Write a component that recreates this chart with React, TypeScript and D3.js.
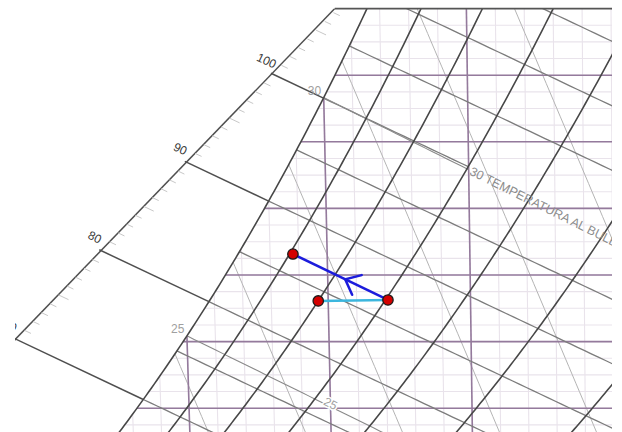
import * as d3 from 'd3';

// Psychrometric chart (excerpt), 101.325 kPa, with a process drawn on top
const PRESSURE = 101.325; // kPa

const dryBulbFine = d3.range(18, 42); // °C, thin grid
const dryBulbMajor = [20, 25, 30, 35]; // °C, purple
const humidityFine = d3.range(14, 30, 0.5); // g/kg, thin grid
const humidityMajor = [14, 16, 18, 20, 22, 24, 26, 28]; // g/kg, purple
const rhCurves = [1, 0.9, 0.8, 0.7, 0.6, 0.5, 0.4, 0.3];
const enthalpyInside = [65, 70, 75, 80, 85, 90, 95, 100, 105, 110, 115, 120]; // kJ/kg
const enthalpyMajor = [70, 80, 90, 100];
const enthalpyTicks = d3.range(64, 108);
const volumeLines = [0.86, 0.87, 0.88, 0.89, 0.9, 0.91, 0.92, 0.93]; // m3/kg
const wetBulbLabelled = [25, 30];
const satLabels = [25, 30];

// ends of the enthalpy scale (dry bulb °C, humidity g/kg)
const scaleT = [18.94, 30.45];
const scaleW = [20.11, 30];

// process states
const stateT = [32.1, 29.65, 28.8];
const stateW = [21.25, 21.22, 22.63];

const TOP_W = 30;
const LEFT = 15;
const RIGHT = 612;
const HEIGHT = 432;

const tScale = d3.scaleLinear().domain([25, 35]).range([187.1, 471.1]);
const wScale = d3.scaleLinear().domain([20, 30]).range([341.6, 8.6]);
// isotherms fan out slightly (oblique h-W chart): px per g/kg per °C
const FAN = 0.0525;
const FAN_REF = 44;

const xOf = (T: number, W: number) => tScale(T) + FAN * (T - FAN_REF) * (W - 20);
const toPx = (T: number, W: number): [number, number] => [xOf(T, W), wScale(W)];

function pws(T: number) {
  const K = T + 273.15;
  return (
    Math.exp(
      -5.8002206e3 / K +
        1.3914993 -
        4.8640239e-2 * K +
        4.1764768e-5 * K * K -
        1.4452093e-8 * K * K * K +
        6.5459673 * Math.log(K)
    ) / 1000
  );
}
const wAt = (T: number, rh: number) => {
  const pv = rh * 1.0044 * pws(T);
  return (621.945 * pv) / (PRESSURE - pv);
};
const hOf = (T: number, W: number) => 1.006 * T + (W / 1000) * (2501 + 1.86 * T);
const wForH = (h: number, T: number) => (1000 * (h - 1.006 * T)) / (2501 + 1.86 * T);
const wWetBulb = (T: number, twb: number) => {
  const ws = wAt(twb, 1) / 1000;
  return (1000 * ((2501 - 2.326 * twb) * ws - 1.006 * (T - twb))) / (2501 + 1.86 * T - 4.186 * twb);
};
const tForV = (v: number, W: number) => (v * PRESSURE) / (0.287042 * (1 + (1.607858 * W) / 1000)) - 273.15;

function bisect(f: (x: number) => number, lo: number, hi: number) {
  let a = lo, b = hi;
  for (let i = 0; i < 60; i++) {
    const m = (a + b) / 2;
    if (f(a) * f(m) <= 0) b = m; else a = m;
  }
  return (a + b) / 2;
}
const tSatForH = (h: number) => bisect((T) => hOf(T, wAt(T, 1)) - h, 0, 60);
const tSatForW = (W: number) => bisect((T) => wAt(T, 1) - W, 0, 60);
const scalePoint = (u: number) => ({
  T: scaleT[0] + u * (scaleT[1] - scaleT[0]),
  W: scaleW[0] + u * (scaleW[1] - scaleW[0]),
});
const scaleU = (h: number) => bisect((u) => { const p = scalePoint(u); return hOf(p.T, p.W) - h; }, -1, 1.5);

const line = d3.line<[number, number]>().x((d) => d[0]).y((d) => d[1]);

export default function App() {
  const tTop = tSatForW(TOP_W);
  const satPts: [number, number][] = d3
    .range(15, tTop, 0.1)
    .map((T) => toPx(T, wAt(T, 1)))
    .concat([toPx(tTop, TOP_W)]);
  const gridClip =
    line([...satPts, [RIGHT, wScale(TOP_W)], [RIGHT, 700]])! + 'Z';

  const rhPaths = rhCurves.map((rh) =>
    line(d3.range(15, 50, 0.1).map((T) => toPx(T, wAt(T, rh))).filter((p) => p[1] > -20))
  );

  const hPaths = enthalpyInside.map((h) => {
    const t0 = tSatForH(h);
    const t1 = h === 100 ? 35 : 46;
    return line(d3.range(t0, t1, 0.25).concat([t1]).map((T) => toPx(T, wForH(h, T))));
  });

  const wbPaths = wetBulbLabelled.map((twb) => {
    const t1 = twb === 30 ? 35 : 46;
    return line(d3.range(twb, t1, 0.25).concat([t1]).map((T) => toPx(T, wWetBulb(T, twb))));
  });

  const vPaths = volumeLines.map((v) =>
    line(d3.range(10, 31, 0.25).map((W) => toPx(tForV(v, W), W)))
  );

  // enthalpy scale
  const sA = scalePoint(-0.3);
  const sB = scalePoint(1);
  const hDir = (h: number) => {
    const p = scalePoint(scaleU(h));
    const a = toPx(p.T, p.W);
    const b = toPx(p.T + 1, wForH(h, p.T + 1));
    const len = Math.hypot(b[0] - a[0], b[1] - a[1]);
    return { a, d: [(b[0] - a[0]) / len, (b[1] - a[1]) / len] };
  };

  const wbAngleA = toPx(35, wWetBulb(35, 30));
  const wbAngleB = toPx(40, wWetBulb(40, 30));
  const wbAngle = (Math.atan2(wbAngleB[1] - wbAngleA[1], wbAngleB[0] - wbAngleA[0]) * 180) / Math.PI;

  const states = stateT.map((T, i) => toPx(T, stateW[i]));
  const [s0, s1, s2] = states;
  const vx = s2[0] - s0[0], vy = s2[1] - s0[1];
  const vl = Math.hypot(vx, vy);
  const ux = vx / vl, uy = vy / vl;
  const tip: [number, number] = [s0[0] + 0.45 * vx, s0[1] + 0.45 * vy];
  const arm = (deg: number): [number, number] => {
    const r = (deg * Math.PI) / 180;
    const bx = -ux, by = -uy;
    return [tip[0] + 17 * (bx * Math.cos(r) - by * Math.sin(r)), tip[1] + 17 * (bx * Math.sin(r) + by * Math.cos(r))];
  };

  const font = "'Liberation Sans', Arial, sans-serif";

  return (
    <svg
      width={622}
      height={432}
      style={{ position: 'absolute', left: 0, top: 0, background: '#fff' }}
      fontFamily={font}
    >
      <defs>
        <clipPath id="grid-clip">
          <path d={gridClip} />
        </clipPath>
        <clipPath id="frame-clip">
          <rect x={LEFT} y={wScale(TOP_W)} width={RIGHT - LEFT} height={HEIGHT - wScale(TOP_W)} />
        </clipPath>
        <clipPath id="label-clip">
          <rect x={LEFT} y={0} width={RIGHT - LEFT} height={HEIGHT} />
        </clipPath>
      </defs>

      <g clipPath="url(#frame-clip)">
        <g clipPath="url(#grid-clip)" fill="none">
          {/* thin grid */}
          {dryBulbFine.map((T) => (
            <path key={'tf' + T} d={line([toPx(T, 10), toPx(T, 31)])!} stroke="#e9e3eb" strokeWidth={1.1} />
          ))}
          {humidityFine.map((W) => (
            <path key={'wf' + W} d={line([[0, wScale(W)], [RIGHT, wScale(W)]])!} stroke="#e9e3eb" strokeWidth={1.1} />
          ))}
          {/* specific volume */}
          {vPaths.map((d, i) => (
            <path key={'v' + i} d={d!} stroke="#b4b4b4" strokeWidth={1} />
          ))}
          {/* purple majors */}
          {dryBulbMajor.map((T) => (
            <path key={'tm' + T} d={line([toPx(T, 10), toPx(T, 31)])!} stroke="#947a9c" strokeWidth={1.6} />
          ))}
          {humidityMajor.map((W) => (
            <path key={'wm' + W} d={line([[0, wScale(W)], [RIGHT, wScale(W)]])!} stroke="#947a9c" strokeWidth={1.6} />
          ))}
          {/* enthalpy and wet bulb */}
          {hPaths.map((d, i) => (
            <path key={'h' + i} d={d!} stroke="#7c7c7c" strokeWidth={1.3} />
          ))}
          {wbPaths.map((d, i) => (
            <path key={'wb' + i} d={d!} stroke="#8a8a8a" strokeWidth={1.1} />
          ))}
        </g>

        {/* relative humidity */}
        {rhPaths.map((d, i) => (
          <path key={'rh' + i} d={d!} fill="none" stroke="#474747" strokeWidth={1.6} />
        ))}

        {/* enthalpy scale */}
        <path d={line([toPx(sA.T, sA.W), toPx(sB.T, sB.W)])!} fill="none" stroke="#4f4f4f" strokeWidth={1.5} />
        {enthalpyTicks
          .filter((h) => h % 10 !== 0)
          .map((h) => {
            const { a, d } = hDir(h);
            const len = h % 5 === 0 ? 11 : 7;
            return (
              <path
                key={'tk' + h}
                d={line([
                  [a[0] + 2 * d[0], a[1] + 2 * d[1]],
                  [a[0] + (2 + len) * d[0], a[1] + (2 + len) * d[1]],
                ])!}
                stroke="#c8c8c8"
                strokeWidth={1}
              />
            );
          })}
        {enthalpyMajor.map((h) => {
          const p = scalePoint(scaleU(h));
          const t1 = tSatForH(h);
          return (
            <path
              key={'hm' + h}
              d={line([toPx(p.T, p.W), toPx(t1, wForH(h, t1))])!}
              fill="none"
              stroke="#4f4f4f"
              strokeWidth={1.5}
            />
          );
        })}
      </g>

      {/* top boundary */}
      <path d={line([toPx(sB.T, sB.W), [RIGHT, wScale(TOP_W)]])!} stroke="#555" strokeWidth={1.6} />

      <g clipPath="url(#label-clip)">
        {enthalpyMajor.map((h) => {
          const { a, d } = hDir(h);
          const ang = (Math.atan2(d[1], d[0]) * 180) / Math.PI;
          const cx = a[0] - 4.5;
          const cy = a[1] - 12.5;
          return (
            <text
              key={'hl' + h}
              x={cx}
              y={cy}
              fontSize={12}
              fill="#3a3a3a"
              textAnchor="middle"
              dominantBaseline="central"
              transform={`rotate(${ang} ${cx} ${cy})`}
            >
              {h}
            </text>
          );
        })}
        {satLabels.map((T) => {
          const p = toPx(T, wAt(T, 1));
          return (
            <text key={'sl' + T} x={p[0] - 2.5} y={p[1] - 3} fontSize={12} fill="#a0a0a0" textAnchor="end">
              {T}
            </text>
          );
        })}
        {(() => {
          const p = toPx(30, wWetBulb(30, 25));
          return (
            <text
              x={p[0]}
              y={p[1] - 3}
              fontSize={12}
              fill="#a0a0a0"
              textAnchor="middle"
              dominantBaseline="central"
              stroke="#fff"
              strokeWidth={3}
              paintOrder="stroke"
              transform={`rotate(${wbAngle} ${p[0]} ${p[1] - 3})`}
            >
              25
            </text>
          );
        })()}
        {(() => {
          const p = toPx(35, wWetBulb(35, 30));
          return (
            <text
              x={p[0] + 2}
              y={p[1]}
              fontSize={12.5}
              fill="#8c8c8c"
              dominantBaseline="central"
              transform={`rotate(${wbAngle} ${p[0]} ${p[1]})`}
            >
              30 TEMPERATURA AL BULBO HÚMEDO
            </text>
          );
        })()}
      </g>

      {/* process */}
      <path d={line([s0, s1])!} stroke="#3cb6de" strokeWidth={2.5} />
      <path d={line([s0, s2])!} stroke="#1c1cdc" strokeWidth={2.5} />
      <path d={line([arm(-40), tip, arm(40)])!} fill="none" stroke="#1c1cdc" strokeWidth={2.5} strokeLinecap="round" />
      {states.map((p, i) => (
        <circle key={'st' + i} cx={p[0]} cy={p[1]} r={5.2} fill="#d40000" stroke="#1a1a1a" strokeWidth={1.3} />
      ))}
    </svg>
  );
}
